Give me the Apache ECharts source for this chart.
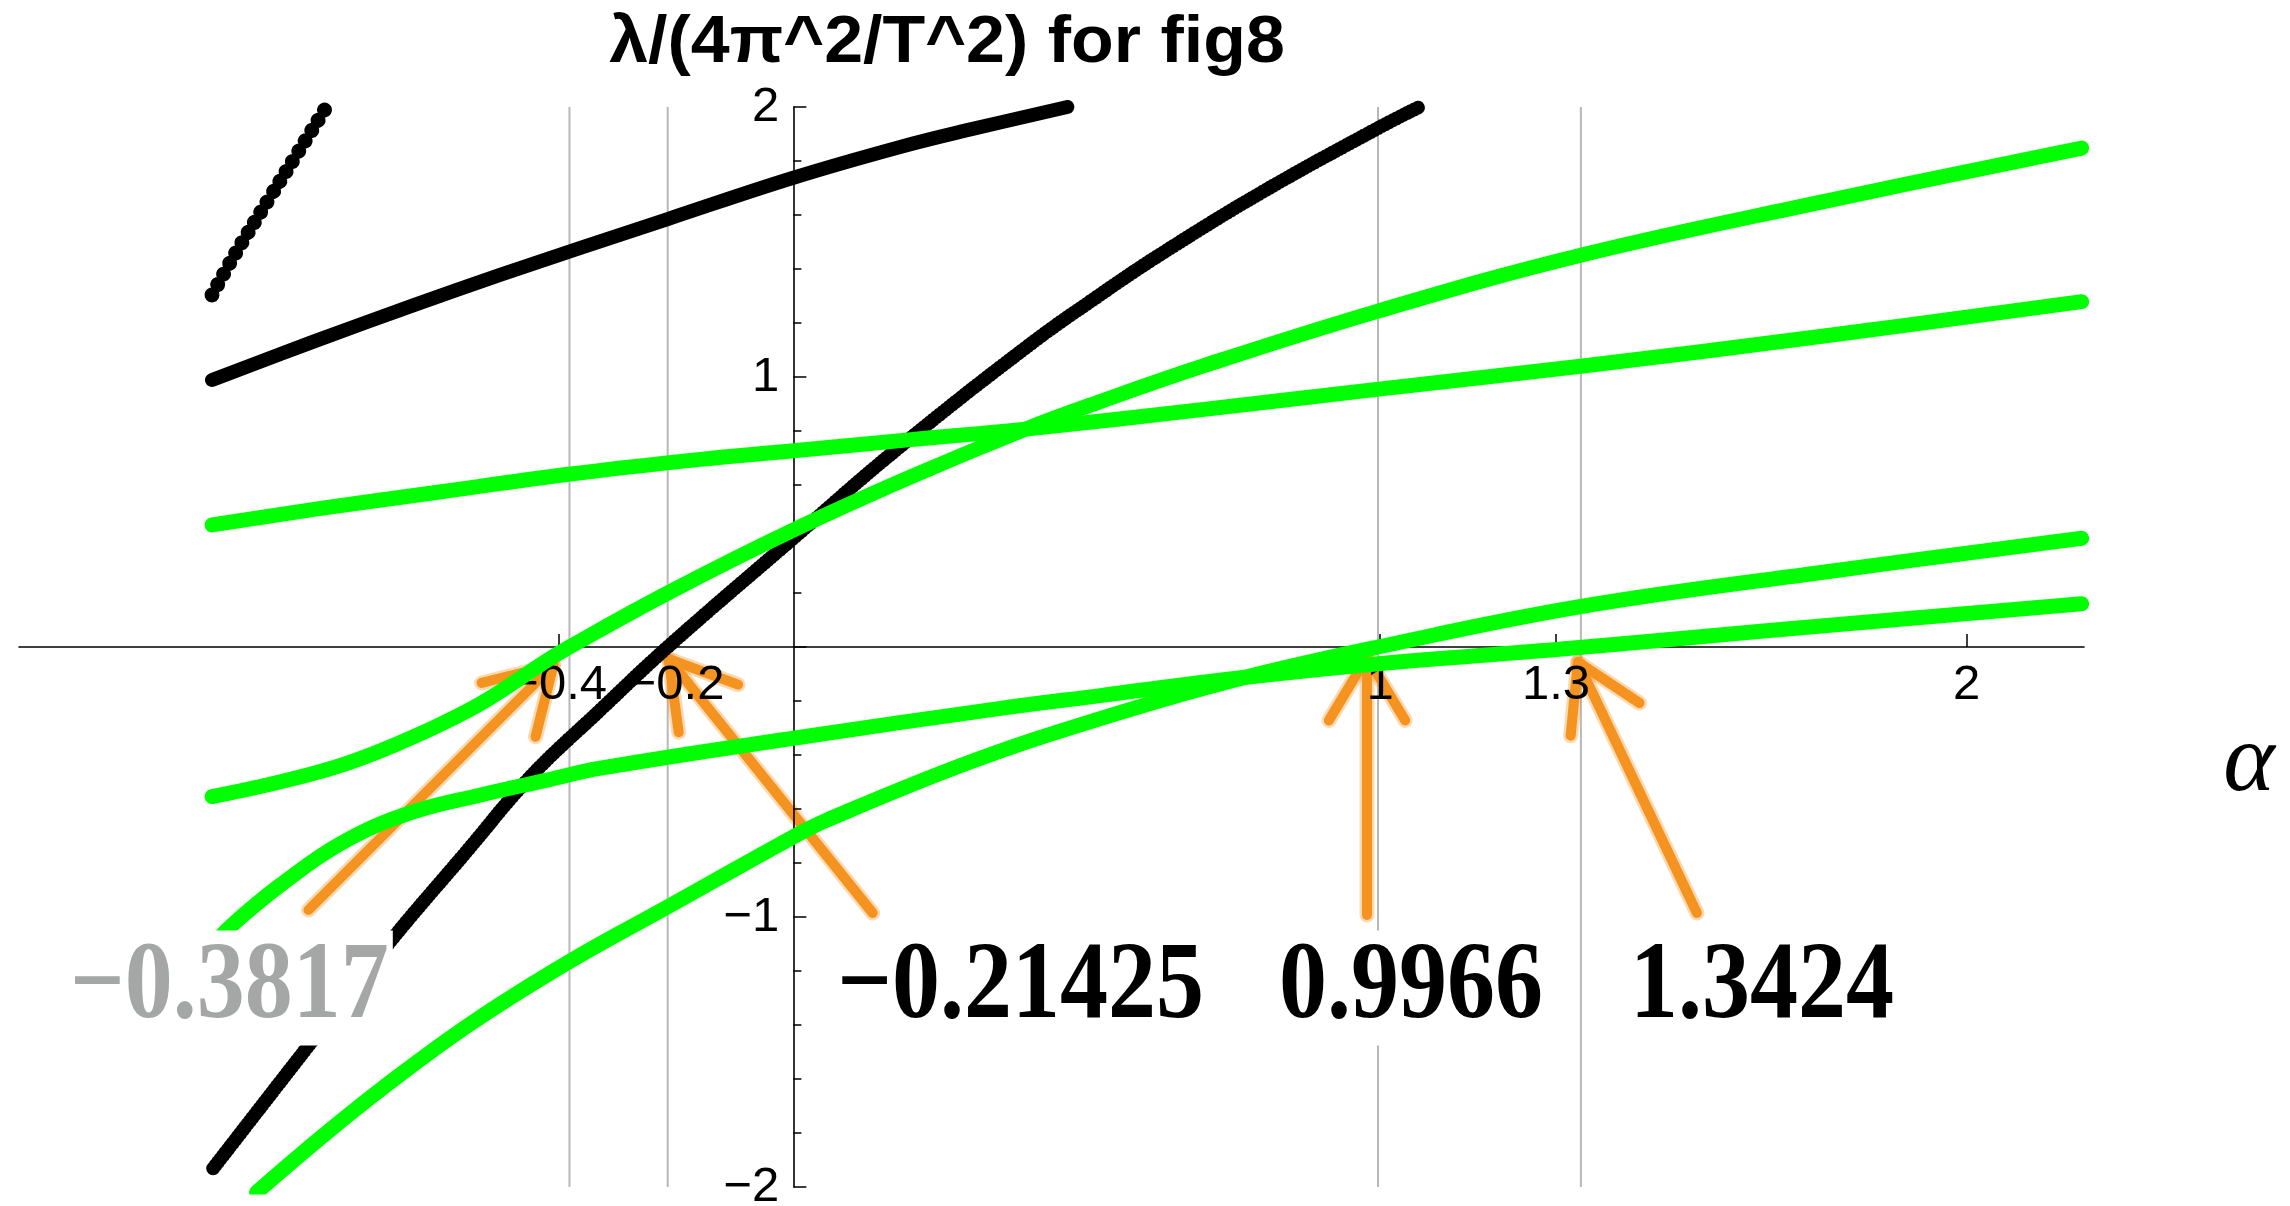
<!DOCTYPE html>
<html>
<head>
<meta charset="utf-8">
<title>λ/(4π^2/T^2) for fig8</title>
<script src="https://cdn.jsdelivr.net/npm/echarts@6/dist/echarts.min.js"></script>
<style>
  html, body { margin: 0; padding: 0; background: #ffffff; }
  #chart { width: 2290px; height: 1206px; }
</style>
</head>
<body>
<div id="chart"></div>
<script>
// Eigenvalue branches λ/(4π²/T²) as functions of α, figure-eight family.
// Each branch is a list of [α, λ] samples.
const blackBranchA = [[-0.991, 1.304], [-0.951, 1.458], [-0.895, 1.656], [-0.845, 1.83], [-0.796, 2.0]];
const blackBranchB = [[-0.991, 0.989], [-0.818, 1.131], [-0.647, 1.266], [-0.5, 1.378], [-0.363, 1.478],
  [-0.213, 1.586], [0, 1.738], [0.182, 1.852], [0.3, 1.916], [0.467, 2.0]];
const blackBranchC = [[-0.989, -1.931], [-0.817, -1.45], [-0.687, -1.09], [-0.56, -0.765], [-0.448, -0.48],
  [-0.33, -0.235], [-0.21425, 0.0], [0, 0.403], [0.175, 0.73], [0.4, 1.115], [0.523, 1.305],
  [0.627, 1.456], [0.8, 1.686], [0.9966, 1.922], [1.067, 2.0]];

const greenBranch1 = [[-0.991, 0.452], [-0.8, 0.515], [-0.6, 0.575], [-0.383, 0.64], [-0.159, 0.695],
  [0, 0.727], [0.2, 0.768], [0.396, 0.807], [0.7, 0.88], [0.998, 0.955], [1.342, 1.04],
  [1.75, 1.15], [2.196, 1.279]];
const greenBranch2 = [[-0.991, -0.554], [-0.874, -0.499], [-0.761, -0.431], [-0.647, -0.332],
  [-0.533, -0.209], [-0.42, -0.05], [-0.3817, 0], [-0.214, 0.2], [0, 0.433], [0.2, 0.63],
  [0.396, 0.807], [0.523, 0.909], [0.7, 1.042], [0.998, 1.245], [1.342, 1.451], [1.75, 1.647],
  [2.196, 1.848]];
const greenBranch3 = [[-0.991, -1.11], [-0.96, -1.036], [-0.874, -0.881], [-0.761, -0.715],
  [-0.647, -0.61], [-0.533, -0.548], [-0.42, -0.493], [-0.329, -0.449], [0, -0.338],
  [0.35, -0.228], [0.523, -0.18], [0.756, -0.116], [0.998, -0.062], [1.3, -0.009],
  [1.546, 0.038], [1.752, 0.078], [2.196, 0.16]];
const greenBranch4 = [[-0.915, -2.02], [-0.8, -1.807], [-0.7, -1.633], [-0.55, -1.395],
  [-0.3817, -1.165], [-0.214, -0.962], [0, -0.703], [0.057, -0.641], [0.3, -0.427],
  [0.523, -0.265], [0.756, -0.12], [0.9966, 0], [1.3424, 0.15], [1.752, 0.276], [2.196, 0.403]];

// Zero crossings of the branches (marked with grid lines, arrows and labels)
const roots = [-0.3817, -0.21425, 0.9966, 1.3424];

// Axis ticks
const xTickValues = [-0.4, -0.2, 1, 1.3, 2];
const yRange = [-2, 2];
const xRange = [-1.32, 2.2];

// ---- styling / layout (pixels) ----
const MINUS = '\u2212';
const fmt = v => String(v).replace('-', MINUS);

const GREEN = '#00ff00';
const ORANGE = '#f4931f';
const GRID_GRAY = '#b8b8b8';

const GRID = { left: 19, right: 206, top: 107, bottom: 19 };
const PLOT_W = 2290 - GRID.left - GRID.right;
const PLOT_H = 1206 - GRID.top - GRID.bottom;
// the axes cross at the origin: shift them from the grid edges onto x = 0 / y = 0
const X_AXIS_SHIFT = -PLOT_H * (0 - yRange[0]) / (yRange[1] - yRange[0]);
const Y_AXIS_SHIFT = -PLOT_W * (0 - xRange[0]) / (xRange[1] - xRange[0]);

// arrow geometry relative to the point (root, 0): tip offset and tail offset
const arrowLayout = [
  { tip: [-16, 18], tail: [-261, 263] },
  { tip: [1, 12], tail: [205, 266] },
  { tip: [-11, 10], tail: [-11, 268] },
  { tip: [-3, 15], tail: [116, 266] }
];
// big value labels relative to (root, 0)
const labelLayout = [
  { dx: -340, color: '#a4a7a5' },
  { dx: 353, color: '#000000' },
  { dx: 33, color: '#000000' },
  { dx: 181, color: '#000000' }
];
const LABEL_DY = 341;

const chart = echarts.init(document.getElementById('chart'), null, { renderer: 'canvas' });

function branch(data, color, width, dash) {
  return {
    type: 'line',
    data: data,
    showSymbol: false,
    smooth: 0.4,
    clip: true,
    silent: true,
    z: 3,
    lineStyle: {
      color: color,
      width: width,
      cap: 'round',
      join: 'round',
      type: dash || 'solid'
    },
    animation: false
  };
}

const tickFont = '"Liberation Sans", Arial, sans-serif';

const option = {
  animation: false,
  backgroundColor: '#ffffff',
  grid: {
    left: GRID.left, right: GRID.right, top: GRID.top, bottom: GRID.bottom,
    containLabel: false,
    outerBoundsMode: 'none'
  },
  xAxis: {
    type: 'value',
    min: xRange[0],
    max: xRange[1],
    position: 'bottom',
    offset: X_AXIS_SHIFT,
    z: 2.5,
    axisLine: { show: true, onZero: false, lineStyle: { color: '#000000', width: 1.6 } },
    axisTick: {
      show: true, inside: true, length: 13,
      customValues: xTickValues,
      lineStyle: { color: '#000000', width: 1.5 }
    },
    axisLabel: {
      show: true,
      customValues: xTickValues,
      formatter: v => fmt(v),
      margin: 14,
      fontFamily: tickFont,
      fontSize: 49,
      color: '#000000'
    },
    splitLine: { show: false }
  },
  yAxis: {
    type: 'value',
    min: yRange[0],
    max: yRange[1],
    interval: 1,
    position: 'left',
    offset: Y_AXIS_SHIFT,
    z: 2.5,
    axisLine: { show: true, onZero: false, lineStyle: { color: '#000000', width: 1.6 } },
    axisTick: { show: true, inside: true, length: 13, lineStyle: { color: '#000000', width: 1.5 } },
    minorTick: { show: true, splitNumber: 5, length: 8, lineStyle: { color: '#000000', width: 1.5 } },
    axisLabel: {
      show: true,
      formatter: v => (v === 0 ? '' : fmt(v)),
      margin: 14,
      fontFamily: tickFont,
      fontSize: 49,
      color: '#000000'
    },
    splitLine: { show: false }
  },
  graphic: [
    {
      type: 'text',
      x: 947,
      y: 44,
      scaleX: 1.06,
      style: {
        text: 'λ/(4π^2/T^2) for fig8',
        fontFamily: tickFont,
        fontWeight: 'bold',
        fontSize: 66,
        fill: '#000000',
        align: 'center',
        verticalAlign: 'middle'
      }
    },
    {
      type: 'text',
      x: 2249,
      y: 764,
      style: {
        text: 'α',
        fontFamily: '"Liberation Serif", "Times New Roman", serif',
        fontStyle: 'italic',
        fontSize: 98,
        fill: '#000000',
        align: 'center',
        verticalAlign: 'middle'
      }
    }
  ],
  series: [
    // vertical guide lines at the roots
    {
      type: 'custom',
      z: 1,
      silent: true,
      data: roots.map(r => [r, 0]),
      renderItem: (params, api) => {
        const top = api.coord([api.value(0), yRange[1]]);
        const bot = api.coord([api.value(0), yRange[0]]);
        return {
          type: 'line',
          shape: { x1: top[0], y1: top[1], x2: bot[0], y2: bot[1] },
          style: { stroke: GRID_GRAY, lineWidth: 2 }
        };
      }
    },
    // hand-drawn style arrows pointing at the roots
    {
      type: 'custom',
      z: 2,
      silent: true,
      data: roots.map(r => [r, 0]),
      renderItem: (params, api) => {
        const base = api.coord([api.value(0), 0]);
        const L = arrowLayout[params.dataIndex];
        const tip = [base[0] + L.tip[0], base[1] + L.tip[1]];
        const tail = [base[0] + L.tail[0], base[1] + L.tail[1]];
        const ang = Math.atan2(tail[1] - tip[1], tail[0] - tip[0]);
        const h = 74, a = 31 * Math.PI / 180;
        const p1 = [tip[0] + h * Math.cos(ang + a), tip[1] + h * Math.sin(ang + a)];
        const p2 = [tip[0] + h * Math.cos(ang - a), tip[1] + h * Math.sin(ang - a)];
        const halo = { stroke: ORANGE, lineWidth: 15, lineCap: 'round', lineJoin: 'round', fill: null, opacity: 0.35 };
        const core = { stroke: ORANGE, lineWidth: 10, lineCap: 'round', lineJoin: 'round', fill: null };
        return {
          type: 'group',
          children: [
            { type: 'polyline', shape: { points: [tail, tip] }, style: halo },
            { type: 'polyline', shape: { points: [p1, tip, p2] }, style: halo },
            { type: 'polyline', shape: { points: [tail, tip] }, style: core },
            { type: 'polyline', shape: { points: [p1, tip, p2] }, style: core }
          ]
        };
      }
    },
    branch(blackBranchA, '#000000', 15, [0.01, 12]),
    branch(blackBranchB, '#000000', 14),
    branch(blackBranchC, '#000000', 14, [0.01, 4]),
    branch(greenBranch1, GREEN, 15),
    branch(greenBranch2, GREEN, 15),
    branch(greenBranch3, GREEN, 15),
    branch(greenBranch4, GREEN, 15),
    // root value labels (white boxes cover what lies beneath)
    {
      type: 'custom',
      z: 5,
      silent: true,
      data: roots.map(r => [r, 0]),
      renderItem: (params, api) => {
        const base = api.coord([api.value(0), 0]);
        const L = labelLayout[params.dataIndex];
        return {
          type: 'text',
          x: base[0] + L.dx,
          y: base[1] + LABEL_DY,
          scaleY: 1.15,
          style: {
            text: fmt(roots[params.dataIndex]),
            fontFamily: '"Liberation Serif", "Times New Roman", serif',
            fontWeight: 'bold',
            fontSize: 96,
            lineHeight: 100,
            fill: L.color,
            align: 'center',
            verticalAlign: 'middle',
            backgroundColor: '#ffffff',
            padding: [0, 4, 0, 4]
          }
        };
      }
    }
  ]
};

chart.setOption(option);
</script>
</body>
</html>
